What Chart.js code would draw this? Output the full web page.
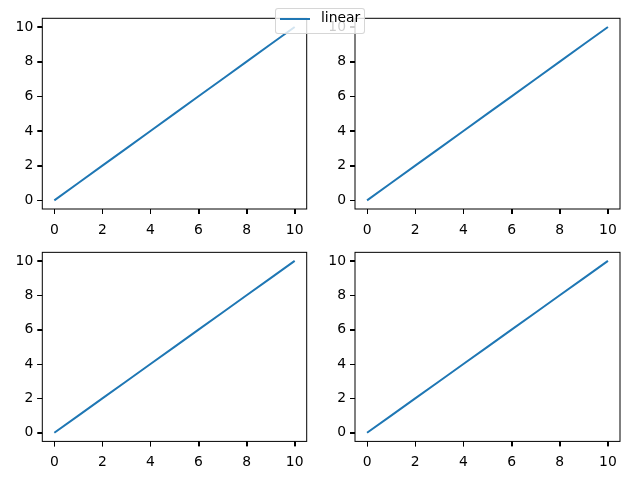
<!DOCTYPE html>
<html>
<head>
<meta charset="utf-8">
<script src="https://cdn.jsdelivr.net/npm/chart.js@4/dist/chart.umd.min.js"></script>
<style>
  html, body { margin: 0; padding: 0; background: #fff; }
  #fig { position: relative; width: 640px; height: 480px; overflow: hidden; font-family: "DejaVu Sans", sans-serif; }
  #fig canvas { position: absolute; }
  #legend {
    position: absolute; left: 275px; top: 8px; width: 88px; height: 24px;
    background: rgba(255,255,255,0.8); border: 1px solid rgba(204,204,204,0.8);
    border-radius: 3px; z-index: 10;
  }
  #legend .swatch { position: absolute; left: 4px; top: 9px; width: 30px; height: 2px; background: #1f77b4; }
  #legend .label { position: absolute; left: 45px; top: 0px; font-size: 13.9px; line-height: 16px; color: #000; white-space: nowrap; }
</style>
</head>
<body>
<div id="fig">
  <canvas id="c0" width="320" height="240" style="left:0;top:0"></canvas>
  <canvas id="c1" width="320" height="240" style="left:320px;top:0"></canvas>
  <canvas id="c2" width="320" height="240" style="left:0;top:240px"></canvas>
  <canvas id="c3" width="320" height="240" style="left:320px;top:240px"></canvas>
  <div id="legend"><div class="swatch"></div><div class="label" id="legendLabel"></div></div>
</div>
<script>
// ---- data ----
const seriesName = "linear";
const xValues = [0, 1, 2, 3, 4, 5, 6, 7, 8, 9, 10];
const yValues = [0, 1, 2, 3, 4, 5, 6, 7, 8, 9, 10];
const xTickValues = [0, 2, 4, 6, 8, 10];
const yTickValues = [0, 2, 4, 6, 8, 10];
const axisMin = -0.5;
const axisMax = 10.5;

document.getElementById('legendLabel').textContent = seriesName;

const lineColor = '#1f77b4';
const font = { family: 'DejaVu Sans', size: 13.9 };

// frame (all four spines) and outward tick marks, placed through the chart's scales
const boxPlugin = {
  id: 'box',
  afterDraw(chart) {
    const a = chart.chartArea, ctx = chart.ctx;
    const xs = chart.scales.x, ys = chart.scales.y;
    ctx.save();
    ctx.strokeStyle = '#000';
    ctx.lineWidth = 1;
    ctx.strokeRect(a.left, a.top, a.right - a.left, a.bottom - a.top);
    ctx.beginPath();
    xs.ticks.forEach(t => {
      const px = Math.round(xs.getPixelForValue(t.value)) + 0.5;
      ctx.moveTo(px, a.bottom);
      ctx.lineTo(px, a.bottom + 5);
    });
    ys.ticks.forEach(t => {
      const py = Math.round(ys.getPixelForValue(t.value)) + 0.5;
      ctx.moveTo(a.left, py);
      ctx.lineTo(a.left - 5, py);
    });
    ctx.stroke();
    ctx.restore();
  }
};

// layout per subplot: y-axis width, x-axis height, top pad, right pad
const layouts = [
  { yw: 42.3, xh: 31,   top: 18.3, right: 13.3 },
  { yw: 35,   xh: 31,   top: 18.3, right: 20 },
  { yw: 42.3, xh: 38.6, top: 11.4, right: 13.3 },
  { yw: 35,   xh: 38.6, top: 11.4, right: 20 }
];

layouts.forEach((L, i) => {
  const pts = xValues.map((x, k) => ({ x: x, y: yValues[k] }));
  new Chart(document.getElementById('c' + i), {
    type: 'line',
    data: {
      datasets: [{
        label: seriesName,
        data: pts,
        borderColor: lineColor,
        backgroundColor: lineColor,
        borderWidth: 2,
        pointRadius: 0,
        tension: 0,
        fill: false
      }]
    },
    options: {
      responsive: false,
      animation: false,
      devicePixelRatio: 1,
      layout: { padding: { left: 0, top: L.top, right: L.right, bottom: 0 } },
      plugins: { legend: { display: false }, tooltip: { enabled: false } },
      scales: {
        x: {
          type: 'linear',
          min: axisMin, max: axisMax,
          afterBuildTicks: s => { s.ticks = xTickValues.map(v => ({ value: v })); },
          afterFit: s => { s.height = L.xh; },
          grid: { display: true, drawOnChartArea: false, drawTicks: true, tickLength: 5, tickColor: '#000', tickWidth: 1 },
          border: { display: false },
          ticks: { color: '#000', font: font, padding: 8, maxRotation: 0, autoSkip: false }
        },
        y: {
          type: 'linear',
          min: axisMin, max: axisMax,
          afterBuildTicks: s => { s.ticks = yTickValues.map(v => ({ value: v })); },
          afterFit: s => { s.width = L.yw; },
          grid: { display: true, drawOnChartArea: false, drawTicks: true, tickLength: 5, tickColor: '#000', tickWidth: 1 },
          border: { display: false },
          ticks: { color: '#000', font: font, padding: 4, autoSkip: false }
        }
      }
    },
    plugins: [boxPlugin]
  });
});
</script>
</body>
</html>
